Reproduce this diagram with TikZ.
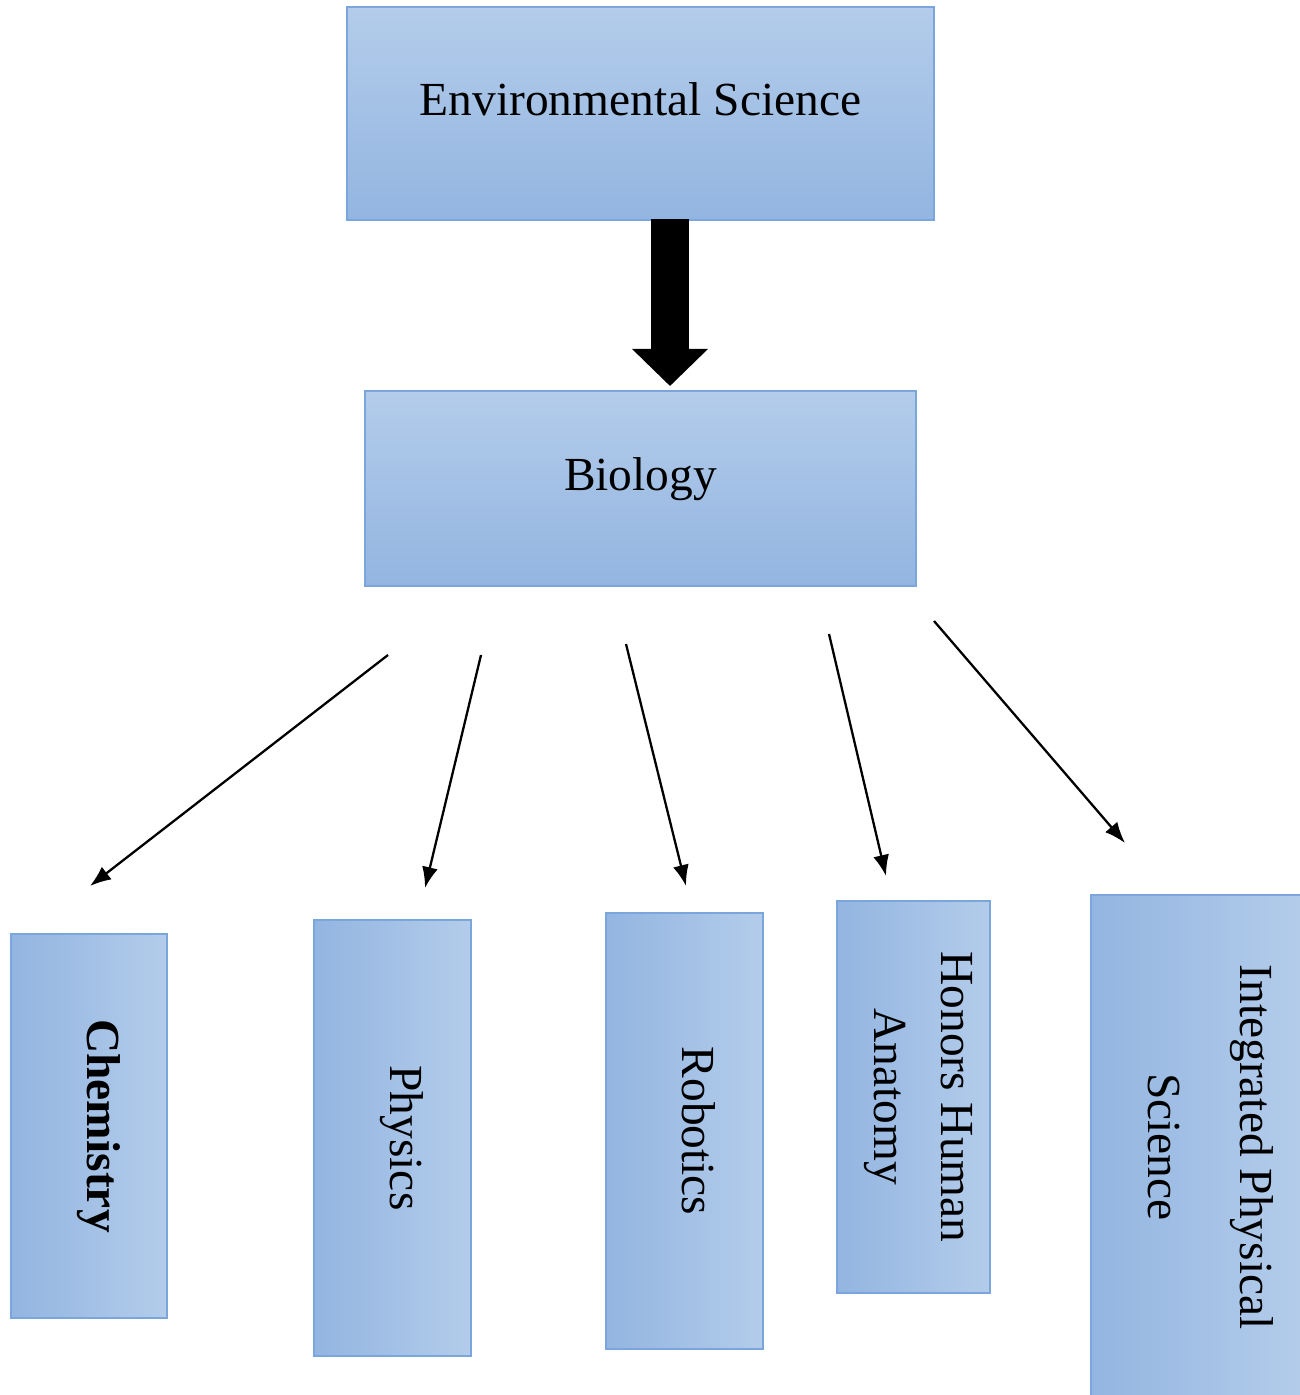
\documentclass[tikz,border=0pt]{standalone}
\usepackage{fontspec}
\setmainfont{Liberation Serif}
\usetikzlibrary{arrows.meta}
\definecolor{boxlight}{HTML}{B3CCEA}
\definecolor{boxdark}{HTML}{93B5E1}
\definecolor{boxline}{HTML}{7AA6DC}
\tikzset{
    subjbox/.style={draw=boxline, line width=0.6pt, top color=boxlight, bottom color=boxdark,
        font=\fontsize{13.5}{16}\selectfont, text depth=8.5pt, inner sep=0pt},
    sidebox/.style={subjbox, left color=boxdark, right color=boxlight, rotate=-90, align=center},
    pointer/.style={line width=0.65pt, -{Latex[length=0.21cm, width=0.16cm]}}
}
\begin{document}
\begin{tikzpicture}
        \useasboundingbox (0, 0) rectangle (12.99, -13.95);
        % top row
        \node[subjbox, minimum width=5.87cm, minimum height=2.13cm] (env) at (6.405, -1.135) {Environmental Science};
        \node[subjbox, minimum width=5.51cm, minimum height=1.95cm] (bio) at (6.405, -4.885) {Biology};
        \coordinate (mid) at (6.70, 0);
        \draw[line width=0.38cm, shorten <=-0.02cm, shorten >=0.04cm, -{Triangle[length=0.37cm, width=0.76cm, line width=0pt]}] (env.south -| mid) -- (bio.north -| mid);
        % bottom row
        \node[sidebox, minimum width=3.84cm, minimum height=1.56cm] (chem) at (0.89, -11.26) {\bfseries Chemistry};
        \node[sidebox, minimum width=4.36cm, minimum height=1.57cm] (phys) at (3.925, -11.38) {Physics};
        \node[sidebox, minimum width=4.36cm, minimum height=1.57cm] (robo) at (6.845, -11.31) {Robotics};
        \node[sidebox, text depth=5.7pt, minimum width=3.92cm, minimum height=1.53cm] (anat) at (9.135, -10.97) {Honors Human\\[2.8pt]Anatomy};
        \node[sidebox, minimum width=5.04cm, minimum height=2.10cm] (ips) at (11.96, -11.47) {Integrated Physical\\[10pt]Science};
        \coordinate (chemtop) at (0.90, -8.86);
        \coordinate (physto) at (4.25, -8.88);
        \coordinate (robotop) at (6.86, -8.86);
        \coordinate (anattop) at (8.86, -8.76);
        \coordinate (ipstop) at (11.25, -8.43);
        \draw[pointer] (3.88, -6.55) -- (chemtop);
        \draw[pointer] (4.81, -6.55) -- (physto);
        \draw[pointer] (6.26, -6.44) -- (robotop);
        \draw[pointer] (8.29, -6.34) -- (anattop);
        \draw[pointer] (9.34, -6.21) -- (ipstop);
    \end{tikzpicture}
\end{document}
